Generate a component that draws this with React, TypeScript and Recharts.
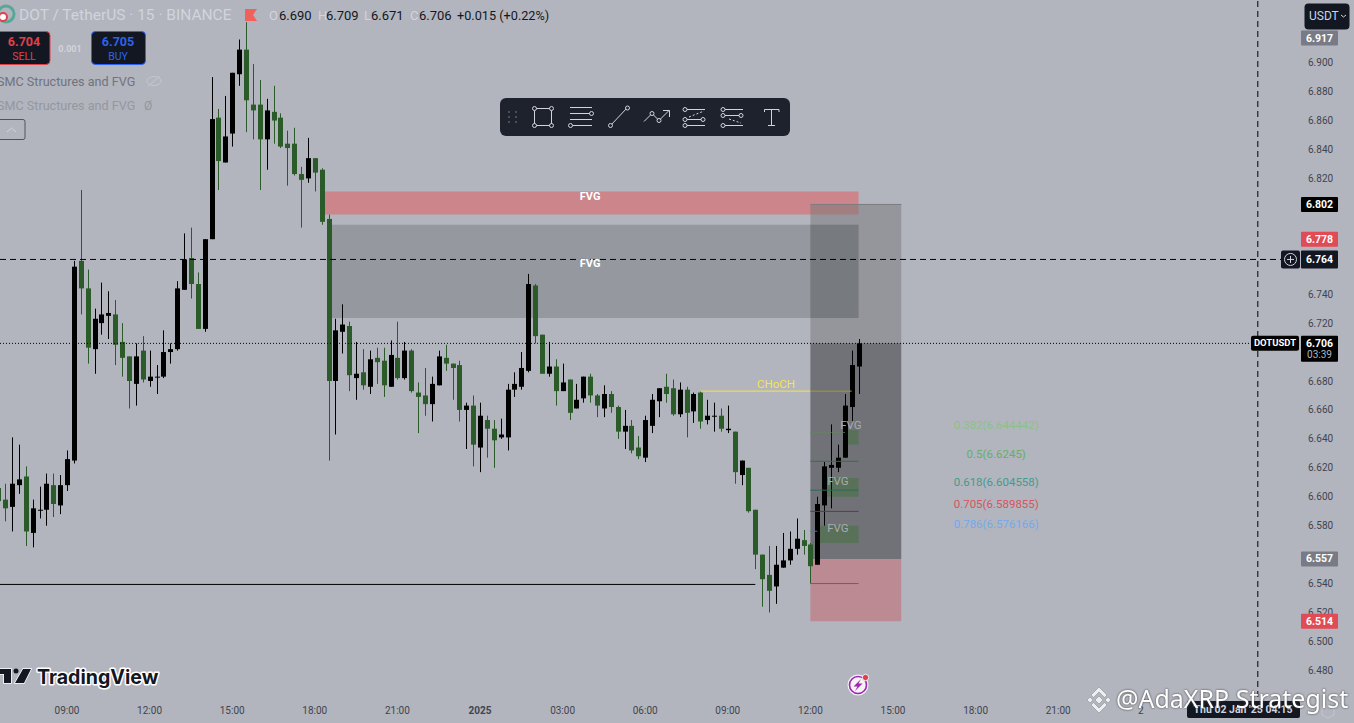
import React from 'react';
import {
  ComposedChart,
  Bar,
  XAxis,
  YAxis,
  ReferenceArea,
  ReferenceLine,
  ReferenceDot,
} from 'recharts';

// 15m bars, index 0 = 09:00 on the left of the chart
const firstBar = -10;
const opens = [
  6.606,6.598,6.593,6.608,6.614,6.575,6.591,6.591,6.608,6.594,
  6.608,6.625,6.763,6.744,6.702,6.720,6.725,6.726,6.707,6.697,
  6.678,6.701,6.680,6.683,6.683,6.700,6.702,6.743,6.765,6.747,
  6.716,6.778,6.862,6.831,6.851,6.892,6.909,6.871,6.871,6.847,
  6.866,6.862,6.844,6.844,6.823,6.820,6.834,6.826,6.792,6.680,
  6.714,6.718,6.682,6.686,6.676,6.696,6.694,6.676,6.696,6.682,
  6.701,6.672,6.670,6.664,6.677,6.696,6.692,6.691,6.660,6.663,
  6.634,6.653,6.647,6.641,6.641,6.674,6.676,6.687,6.746,6.712,
  6.685,6.690,6.673,6.681,6.661,6.668,6.683,6.670,6.661,6.671,
  6.662,6.645,6.649,6.634,6.627,6.649,6.666,6.676,6.675,6.657,
  6.674,6.659,6.672,6.653,6.656,6.656,6.646,6.645,6.615,6.620,
  6.591,6.560,6.546,6.538,6.551,6.556,6.564,6.570,6.567,6.553,
  6.594,6.620,6.620,6.627,6.662,6.690,
];
const closes = [
  6.597,6.592,6.609,6.612,6.576,6.592,6.591,6.609,6.595,6.608,
  6.626,6.759,6.744,6.703,6.723,6.726,6.727,6.705,6.696,6.680,
  6.697,6.681,6.683,6.683,6.700,6.702,6.744,6.764,6.747,6.716,
  6.778,6.861,6.832,6.849,6.893,6.909,6.874,6.867,6.847,6.867,
  6.860,6.842,6.841,6.823,6.819,6.834,6.824,6.790,6.680,6.715,
  6.719,6.684,6.685,6.677,6.695,6.693,6.677,6.698,6.682,6.701,
  6.673,6.669,6.664,6.678,6.697,6.692,6.689,6.660,6.663,6.636,
  6.656,6.647,6.639,6.643,6.674,6.678,6.689,6.747,6.711,6.685,
  6.690,6.673,6.679,6.658,6.667,6.683,6.670,6.663,6.671,6.662,
  6.645,6.649,6.632,6.628,6.653,6.667,6.675,6.671,6.657,6.674,
  6.658,6.671,6.652,6.656,6.656,6.647,6.647,6.617,6.625,6.590,
  6.560,6.543,6.535,6.553,6.556,6.564,6.571,6.566,6.552,6.595,
  6.621,6.622,6.627,6.663,6.691,6.706,
];
const highs = [
  6.609,6.609,6.641,6.636,6.621,6.598,6.607,6.616,6.616,6.615,
  6.632,6.763,6.812,6.757,6.730,6.748,6.742,6.736,6.720,6.697,
  6.706,6.711,6.701,6.691,6.715,6.706,6.749,6.782,6.786,6.755,
  6.778,6.890,6.868,6.877,6.893,6.916,6.928,6.899,6.888,6.875,
  6.884,6.865,6.853,6.855,6.828,6.848,6.834,6.827,6.795,6.723,
  6.733,6.721,6.707,6.702,6.701,6.703,6.703,6.708,6.721,6.707,
  6.702,6.679,6.689,6.683,6.701,6.705,6.692,6.694,6.665,6.670,
  6.665,6.656,6.653,6.654,6.678,6.686,6.700,6.754,6.747,6.712,
  6.707,6.695,6.692,6.681,6.678,6.683,6.685,6.671,6.677,6.673,
  6.663,6.660,6.653,6.642,6.656,6.671,6.675,6.685,6.681,6.679,
  6.676,6.672,6.673,6.667,6.665,6.661,6.663,6.645,6.625,6.620,
  6.591,6.560,6.566,6.566,6.575,6.576,6.585,6.577,6.568,6.600,
  6.624,6.650,6.636,6.671,6.701,6.709,
];
const lows = [
  6.593,6.583,6.576,6.602,6.566,6.565,6.585,6.580,6.586,6.588,
  6.604,6.623,6.726,6.692,6.685,6.712,6.709,6.691,6.683,6.661,
  6.663,6.679,6.676,6.671,6.682,6.692,6.701,6.743,6.737,6.716,
  6.714,6.778,6.812,6.831,6.842,6.884,6.852,6.847,6.812,6.826,
  6.844,6.841,6.815,6.822,6.786,6.817,6.811,6.788,6.625,6.643,
  6.699,6.673,6.667,6.674,6.671,6.678,6.669,6.676,6.681,6.681,
  6.672,6.644,6.656,6.652,6.677,6.687,6.667,6.652,6.633,6.621,
  6.617,6.627,6.620,6.640,6.632,6.669,6.674,6.686,6.706,6.685,
  6.683,6.663,6.673,6.653,6.661,6.665,6.665,6.655,6.655,6.658,
  6.640,6.633,6.630,6.626,6.624,6.644,6.655,6.665,6.656,6.655,
  6.641,6.651,6.647,6.650,6.645,6.645,6.644,6.609,6.608,6.589,
  6.550,6.524,6.520,6.526,6.551,6.553,6.560,6.560,6.540,6.553,
  6.580,6.592,6.617,6.627,6.651,6.671,
];

// ticks hidden behind the price tags are left out
const priceTicks = [6.48,6.5,6.52,6.54,6.58,6.6,6.62,6.64,6.66,6.68,6.72,6.74,6.82,6.84,6.86,6.88,6.9];
const timeTicks = [0,12,24,36,48,60,72,84,96,108,120,132,144,156];
const timeLabels = ['09:00','12:00','15:00','18:00','21:00','2025','03:00','06:00','09:00','12:00','15:00','18:00','21:00','2'];

const fibLevels = [
  { label: '0.382(6.644442)', price: 6.644442, end: 113, line: '#64875f', dash: '2 1', text: '#8cc08b', textPrice: 6.6495 },
  { label: '0.5(6.6245)', price: 6.6245, end: 115, line: '#3f6e3f', dash: undefined, text: '#63b067', textPrice: 6.6295 },
  { label: '0.618(6.604558)', price: 6.604558, end: 115, line: '#2c6a58', dash: undefined, text: '#439b8c', textPrice: 6.6100 },
  { label: '0.705(6.589855)', price: 6.589855, end: 115, line: '#7e3038', dash: undefined, text: '#d9535d', textPrice: 6.5950 },
  { label: '0.786(6.576166)', price: 6.576166, end: 109, line: '#3f78a8', dash: undefined, text: '#6fabee', textPrice: 6.5815 },
];

const fvgBoxes = [
  { from: 113, top: 6.646, bottom: 6.636, textX: 113.9, textPrice: 6.6495 },
  { from: 110, top: 6.613, bottom: 6.600, textX: 112, textPrice: 6.611 },
  { from: 109, top: 6.580, bottom: 6.568, textX: 112, textPrice: 6.5785 },
];

const priceTags = [
  { price: 6.917, text: '6.917', bg: '#787b86' },
  { price: 6.802, text: '6.802', bg: '#000000' },
  { price: 6.778, text: '6.778', bg: '#e04b55' },
  { price: 6.557, text: '6.557', bg: '#787b86' },
  { price: 6.514, text: '6.514', bg: '#e04b55' },
];

const chartData = opens.map((open, idx) => ({
  bar: firstBar + idx,
  open,
  close: closes[idx],
  range: [lows[idx], highs[idx]],
}));

const xMin = -9.73;
const xMax = 179.13;
const yMin = 6.4616;
const yMax = 6.9433;

const UI_FONT = 'Roboto, "Liberation Sans", sans-serif';

const Candle = (props: any) => {
  const { x, y, width, height, payload } = props;
  const { open, close, range } = payload;
  const [low, high] = range;
  const up = close >= open;
  const color = up ? '#000000' : '#2b5b29';
  const perPrice = height / (high - low || 1);
  const bodyTop = y + (high - Math.max(open, close)) * perPrice;
  const bodyH = Math.max(1, Math.abs(open - close) * perPrice);
  const cx = Math.round(x + width / 2);
  return (
    <g>
      <rect x={cx} y={y} width={1} height={height} fill={color} />
      <rect x={cx - 2} y={bodyTop} width={5} height={bodyH} fill={color} />
    </g>
  );
};

const PriceTag = ({ cx, cy, text, bg }: any) => (
  <g>
    <rect x={cx + 1} y={cy - 7.5} width={37} height={15} fill={bg} rx={1} />
    <text x={cx + 19.5} y={cy + 3.5} textAnchor="middle" fill="#fff" fontSize={10.5} fontWeight={700} fontFamily={UI_FONT}>
      {text}
    </text>
  </g>
);

const CrossTag = ({ cx, cy }: any) => (
  <g>
    <rect x={cx + 1} y={cy - 9} width={37} height={18} fill="#131722" rx={1} />
    <text x={cx + 19.5} y={cy + 3.5} textAnchor="middle" fill="#fff" fontSize={10.5} fontWeight={700} fontFamily={UI_FONT}>6.764</text>
    <rect x={cx - 19} y={cy - 9} width={19} height={18} fill="#131722" rx={2} />
    <circle cx={cx - 9.5} cy={cy} r={6} fill="none" stroke="#d1d4dc" strokeWidth={1} />
    <path d={`M${cx - 13},${cy} H${cx - 6} M${cx - 9.5},${cy - 3.5} V${cy + 3.5}`} stroke="#d1d4dc" strokeWidth={1} />
  </g>
);

const LastTag = ({ cx, cy }: any) => (
  <g>
    <rect x={cx - 49} y={cy - 7.5} width={48} height={15} fill="#000" rx={2} />
    <text x={cx - 25} y={cy + 3} textAnchor="middle" fill="#fff" fontSize={9.5} fontWeight={700} fontFamily={UI_FONT}>DOTUSDT</text>
    <rect x={cx + 1} y={cy - 7.5} width={37} height={26} fill="#000" rx={1} />
    <text x={cx + 19.5} y={cy + 3.5} textAnchor="middle" fill="#fff" fontSize={10.5} fontWeight={700} fontFamily={UI_FONT}>6.706</text>
    <text x={cx + 19.5} y={cy + 15} textAnchor="middle" fill="#b2b5be" fontSize={10} fontFamily={UI_FONT}>03:39</text>
  </g>
);

const TimeTick = ({ x, y, payload }: any) => {
  const label = timeLabels[timeTicks.indexOf(payload.value)];
  return (
    <text x={x} y={y + 3} textAnchor="middle" fill="#41444e" fontSize={10} fontWeight={label === '2025' ? 700 : 400} fontFamily={UI_FONT}>
      {label}
    </text>
  );
};

const ChartLabel = (props: any) => {
  const { cx, cy, text, fill, size, weight } = props;
  return (
    <text x={cx} y={cy + 4} textAnchor="middle" fill={fill} fontSize={size} fontWeight={weight} fontFamily={UI_FONT}>
      {text}
    </text>
  );
};

const labelDot = (key: string, x: number, y: number, text: string, fill: string, size = 11, weight = 400) => (
  <ReferenceDot
    key={key}
    x={x}
    y={y}
    r={0}
    ifOverflow="visible"
    shape={(p: any) => <ChartLabel {...p} text={text} fill={fill} size={size} weight={weight} />}
  />
);

// Floating drawing toolbar
const Toolbar = () => {
  const s = '#d1d4dc';
  const dot = (x: number, y: number) => <circle key={`${x}-${y}`} cx={x} cy={y} r={2} fill="#1e222d" stroke={s} strokeWidth={1} />;
  return (
    <svg style={{ position: 'absolute', left: 0, top: 0 }} width={1354} height={723}>
      <rect x={500} y={98} width={290} height={38} rx={6} fill="#1e222d" />
      {[509, 516].map((x) => [112, 117, 122].map((y) => <rect key={`${x}${y}`} x={x - 1} y={y - 1} width={2} height={2} fill="#4a4e59" />))}
      <g fill="none" stroke={s} strokeWidth={1}>
        <rect x={534.5} y={108.5} width={17} height={17} />
        <path d="M570,107.5H592 M570,113.5H590 M570,119.5H592 M572,125.5H592" />
        <path d="M611,125L627,108" />
        <path d="M644,121.5L652,113.5L659,120.5L669,110.5 M663,110.5H669.5V117" />
        <path d="M686,109.5H705 M686,119.5H703 M686,125.5H705" />
        <path d="M689,117L704,111" strokeDasharray="2 2" />
        <path d="M724,109.5H743 M724,115.5H741 M724,125.5H743" />
        <path d="M729,119L741,123" strokeDasharray="2 2" />
        <path d="M764.5,112V109.5H779V112 M771.5,109.5V125.5 M768,125.5H775" />
      </g>
      {[dot(534.5, 108.5), dot(551.5, 108.5), dot(534.5, 125.5), dot(551.5, 125.5), dot(591.5, 113.5), dot(570.5, 125.5), dot(610.5, 125.5), dot(627.5, 108), dot(652, 113.5), dot(659, 120.5), dot(685, 109.5), dot(685, 119.5), dot(703, 119.5), dot(685, 125.5), dot(723, 109.5), dot(723, 115.5), dot(741, 115.5), dot(723, 125.5)]}
    </svg>
  );
};

// Header, order buttons, logos and watermark on top of the chart
const Overlay = () => {
  const t = (x: number, y: number, text: string, color: string, size = 13, weight = 400, anchor = 'start') => (
    <text x={x} y={y} fill={color} fontSize={size} fontWeight={weight} textAnchor={anchor as any} fontFamily={UI_FONT}>{text}</text>
  );
  return (
    <svg style={{ position: 'absolute', left: 0, top: 0 }} width={1354} height={723}>
      <circle cx={6} cy={14} r={8} fill="none" stroke="#5aa79a" strokeWidth={3} />
      <circle cx={3} cy={17} r={4} fill="#fff" stroke="#e0404a" strokeWidth={2} />
      {t(19, 20, 'DOT / TetherUS · 15 · BINANCE', '#d1d4dc', 15.5)}
      <path d="M245,9H257L253,15L257,21H245Z" fill="#f0605c" />
      {t(269, 20, 'O', '#d1d4dc', 13)}
      {t(279, 20, '6.690', '#131722', 13)}
      {t(318, 20, 'H', '#d1d4dc', 13)}
      {t(326, 20, '6.709', '#131722', 13)}
      {t(364, 20, 'L', '#d1d4dc', 13)}
      {t(371, 20, '6.671', '#131722', 13)}
      {t(410, 20, 'C', '#d1d4dc', 13)}
      {t(419, 20, '6.706', '#131722', 13)}
      {t(457, 20, '+0.015 (+0.22%)', '#131722', 12.7)}

      <rect x={-8} y={31.5} width={58} height={33} rx={4} fill="#131722" stroke="#e0404a" />
      {t(24, 46, '6.704', '#e0404a', 12.5, 700, 'middle')}
      {t(24, 60, 'SELL', '#e0404a', 10.5, 400, 'middle')}
      {t(70, 52, '0.001', '#d1d4dc', 9, 700, 'middle')}
      <rect x={91.5} y={31.5} width={54} height={33} rx={4} fill="#131722" stroke="#2962ff" />
      {t(118, 46, '6.705', '#2f62e8', 12.5, 700, 'middle')}
      {t(118, 60, 'BUY', '#2f62e8', 10.5, 400, 'middle')}

      {t(-3, 86, 'SMC Structures and FVG', '#70737d', 12.6)}
      <ellipse cx={154} cy={81} rx={7} ry={4.5} fill="none" stroke="#c4c7cf" />
      <path d="M148,86L160,76" stroke="#c4c7cf" />
      {t(-3, 110, 'SMC Structures and FVG', '#94979f', 12.6)}
      {t(144, 110, 'Ø', '#94979f', 12)}
      <rect x={-6} y={119.5} width={31} height={20} rx={2} fill="none" stroke="#50535e" />
      <path d="M7,132L11.5,128L16,132" fill="none" stroke="#d1d4dc" />

      <rect x={1304.5} y={3.5} width={45} height={26} rx={4} fill="#131722" />
      {t(1309, 20, 'USDT', '#c5d4f0', 12)}
      <path d="M1341,15L1343.5,17L1346,15" fill="none" stroke="#d1d4dc" />

      <rect x={1187} y={701} width={113} height={17} rx={2} fill="#131722" />
      {t(1243, 713, "Thu 02 Jan '25   04:15", '#d1d4dc', 10.5, 700, 'middle')}
      <path d="M1328,705L1334,708.5V715L1328,718L1322,715V708.5Z" fill="none" stroke="#c4c7cf" />

      <path d="M0,669H11V683H4V674H0Z M23,669H31L24,683H15Z" fill="#131722" stroke="#fff" strokeWidth={1.5} paintOrder="stroke" />
      <circle cx={16} cy={671} r={2.5} fill="#131722" />
      <text x={37} y={684} fontFamily="Inter, sans-serif" fontWeight={700} fontSize={19.6} fill="#131722" stroke="#fff" strokeWidth={3} paintOrder="stroke" strokeLinejoin="round">TradingView</text>

      <circle cx={858} cy={685} r={10.5} fill="#f6f2f8" />
      <circle cx={858} cy={685} r={8.5} fill="none" stroke="#9c27b0" strokeWidth={1.6} />
      <path d="M861,679L853.5,686.5H857.5L855,691L862.5,683.5H858.5Z" fill="#9c27b0" />
      <circle cx={865.5} cy={677.5} r={3.2} fill="#e0404a" stroke="#f6f2f8" />

      <g fill="#eceef2" stroke="#6d7078" strokeWidth={0.4}>
        <path d="M1099,696L1103,700L1099,704L1095,700Z" />
        <path d="M1090,697L1093,700L1090,703L1087,700Z" />
        <path d="M1108,697L1111,700L1108,703L1105,700Z" />
        <path d="M1099,687L1107,695L1104.5,697.5L1099,692L1093.5,697.5L1091,695Z" />
        <path d="M1099,713L1107,705L1104.5,702.5L1099,708L1093.5,702.5L1091,705Z" />
      </g>
      <text x={1116} y={708} fontFamily='"Noto Sans", sans-serif' fontSize={25} fill="#fff" style={{ filter: 'drop-shadow(0 0 1px #444)' }}>@AdaXRP Strategist</text>
    </svg>
  );
};

export default function App() {
  return (
    <div style={{ position: 'absolute', left: 0, top: 0, width: 1354, height: 723, background: '#b2b5be', overflow: 'hidden' }}>
      <ComposedChart width={1354} height={723} data={chartData} margin={{ top: 0, right: 0, left: 0, bottom: 0 }}>
        <XAxis
          dataKey="bar"
          type="number"
          domain={[xMin, xMax]}
          allowDataOverflow
          ticks={timeTicks}
          interval={0}
          height={26}
          axisLine={false}
          tickLine={false}
          tick={<TimeTick />}
          tickMargin={8}
        />
        <YAxis
          type="number"
          orientation="right"
          domain={[yMin, yMax]}
          ticks={priceTicks}
          interval={0}
          width={54}
          axisLine={false}
          tickLine={false}
          tickSize={0}
          tickMargin={8}
          tickFormatter={(v: number) => v.toFixed(3)}
          tick={{ fill: '#41444e', fontSize: 10, fontFamily: UI_FONT }}
        />

        {/* FVG zones */}
        <ReferenceArea x1={37} x2={115} y1={6.795} y2={6.811} fill="#e55555" fillOpacity={0.5} stroke="none" />
        <ReferenceArea x1={38} x2={115} y1={6.7235} y2={6.788} fill="#000" fillOpacity={0.16} stroke="none" />

        {/* Position tool */}
        <ReferenceArea x1={108} x2={121.2} y1={6.706} y2={6.802} fill="#787878" fillOpacity={0.5} stroke="none" />
        <ReferenceArea x1={108} x2={115} y1={6.7235} y2={6.788} fill="#1e2a3c" fillOpacity={0.14} stroke="none" />
        <ReferenceArea x1={108} x2={121.2} y1={6.557} y2={6.706} fill="#000" fillOpacity={0.37} stroke="none" />
        <ReferenceArea x1={108} x2={121.2} y1={6.514} y2={6.557} fill="#c45f68" fillOpacity={0.5} stroke="none" />

        {fvgBoxes.map((b) => (
          <ReferenceArea key={b.from} x1={b.from} x2={115} y1={b.bottom} y2={b.top} fill="#50704c" fillOpacity={0.7} stroke="none" />
        ))}

        {/* Structure lines */}
        <ReferenceLine segment={[{ x: 108, y: 6.802 }, { x: 121.2, y: 6.802 }]} stroke="#7c7d82" strokeWidth={1} />
        <ReferenceLine segment={[{ x: 92, y: 6.673 }, { x: 108, y: 6.673 }]} stroke="#f5e44a" strokeWidth={1} />
        <ReferenceLine segment={[{ x: 108, y: 6.673 }, { x: 114, y: 6.673 }]} stroke="#a8973c" strokeWidth={1} />
        {fibLevels.map((f) => (
          <ReferenceLine key={f.label} segment={[{ x: 108, y: f.price }, { x: f.end, y: f.price }]} stroke={f.line} strokeDasharray={f.dash} strokeWidth={1} />
        ))}
        <ReferenceLine segment={[{ x: 108, y: 6.54 }, { x: 115, y: 6.54 }]} stroke="#6a54ac" strokeWidth={1} />
        <ReferenceLine segment={[{ x: xMin, y: 6.5394 }, { x: 100, y: 6.5394 }]} stroke="#000" strokeWidth={1} />

        <ReferenceLine segment={[{ x: xMin, y: 6.764 }, { x: 176.4, y: 6.764 }]} stroke="#000" strokeDasharray="6 4" strokeWidth={1} />
        <ReferenceLine segment={[{ x: xMin, y: 6.706 }, { x: 172.6, y: 6.706 }]} stroke="#000" strokeDasharray="1 2" strokeWidth={1} />
        <ReferenceLine x={173} stroke="#000" strokeDasharray="6 4" strokeWidth={1} />

        <Bar dataKey="range" barSize={5} shape={<Candle />} isAnimationActive={false} />

        {labelDot('fvg-red', 76, 6.808, 'FVG', '#ffffff', 11, 700)}
        {labelDot('fvg-gray', 76, 6.7616, 'FVG', '#ffffff', 11, 700)}
        {labelDot('choch', 103, 6.678, 'CHoCH', '#f5e44a', 11.5)}
        {fvgBoxes.map((b) => labelDot(`fvg-${b.from}`, b.textX, b.textPrice, 'FVG', '#a9abb0', 11.5))}
        {fibLevels.map((f) => labelDot(f.label, 135, f.textPrice, f.label, f.text, 11.5))}

        {priceTags.map((tag) => (
          <ReferenceDot
            key={tag.text}
            x={xMax}
            y={tag.price}
            r={0}
            ifOverflow="visible"
            zIndex={2000}
            shape={(p: any) => <PriceTag {...p} text={tag.text} bg={tag.bg} />}
          />
        ))}
        <ReferenceDot x={xMax} y={6.764} r={0} ifOverflow="visible" shape={(p: any) => <CrossTag {...p} />} />
        <ReferenceDot x={xMax} y={6.706} r={0} ifOverflow="visible" shape={(p: any) => <LastTag {...p} />} />
      </ComposedChart>
      <Toolbar />
      <Overlay />
    </div>
  );
}
